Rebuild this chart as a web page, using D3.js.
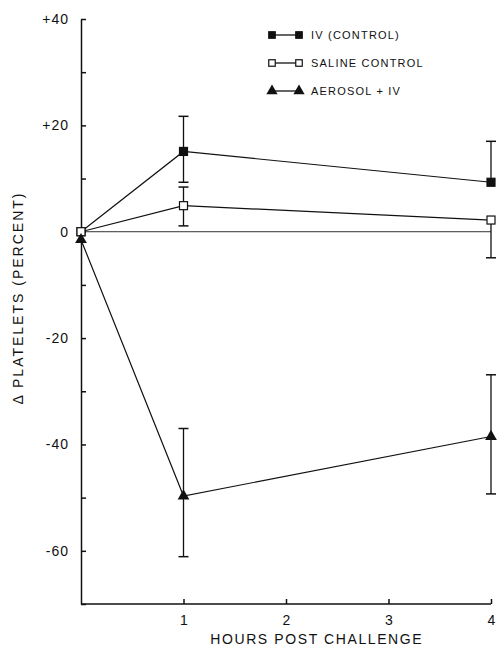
<!DOCTYPE html>
<html>
<head>
	<meta charset="utf-8">
	<title>platelets</title>
	<style type="text/css">
		body { margin: 0; background: #fff; }
		text { font-family: "Liberation Sans", "DejaVu Sans", sans-serif; fill: #111; }
	</style>
</head>
<body>
<script type="text/javascript" src="https://cdn.jsdelivr.net/npm/d3@7"></script>
<script type="text/javascript">
	// data
	var hours = [0, 1, 4];
	var seriesNames = ["IV (CONTROL)", "SALINE CONTROL", "AEROSOL + IV"];
	var ivMean = [0, 15.1, 9.3];
	var ivUp = [null, 21.7, 17.0];
	var ivDown = [null, 9.3, null];
	var salineMean = [0, 4.9, 2.2];
	var salineUp = [null, 8.4, null];
	var salineDown = [null, 1.1, -4.9];
	var aeroMean = [-1.5, -49.7, -38.5];
	var aeroUp = [null, -37.0, -26.9];
	var aeroDown = [null, -61.1, -49.3];
	var xTicks = [1, 2, 3, 4];
	var yTicks = [-70, -60, -50, -40, -30, -20, -10, 0, 10, 20, 30, 40];
	var yLabels = [-60, -40, -20, 0, 20, 40];

	var series = [
		{name: seriesNames[0], mean: ivMean, up: ivUp, down: ivDown, mark: "square", fill: "#111"},
		{name: seriesNames[1], mean: salineMean, up: salineUp, down: salineDown, mark: "square", fill: "#fff"},
		{name: seriesNames[2], mean: aeroMean, up: aeroUp, down: aeroDown, mark: "triangle", fill: "#111"}
	];

	var w = 497, h = 651;
	var x = d3.scaleLinear().domain([0, 4]).range([81, 491]);
	var y = d3.scaleLinear().domain([-70, 40]).range([604, 19]);

	var svg = d3.select("body").append("svg").attr("width", w).attr("height", h);

	// zero reference line
	svg.append("line")
		.attr("x1", x(0)).attr("x2", x(4))
		.attr("y1", y(0)).attr("y2", y(0))
		.attr("stroke", "#333").attr("stroke-width", 1);

	/*=====AXES======*/
	var yAxis = d3.axisLeft(y).tickValues(yTicks).tickSize(-5).tickSizeOuter(0)
		.tickFormat(function(d){ return yLabels.indexOf(d) >= 0 ? (d > 0 ? "+" + d : d) : ""; })
		.tickPadding(12);
	var gy = svg.append("g").attr("transform", "translate(" + x(0) + ",0)").call(yAxis);
	var xAxis = d3.axisBottom(x).tickValues(xTicks).tickSize(-5).tickSizeOuter(0)
		.tickFormat(d3.format("d")).tickPadding(11);
	var gx = svg.append("g").attr("transform", "translate(0," + y(-70) + ")").call(xAxis);

	[gy, gx].forEach(function(g){
		g.select(".domain").attr("stroke", "#111").attr("stroke-width", 1.5);
		g.selectAll(".tick line").attr("stroke", "#111").attr("stroke-width", 1.5);
		g.selectAll(".tick text").attr("font-size", 14).attr("fill", "#111")
			.style("font-family", "'Liberation Sans', sans-serif");
	});
	gx.select(".domain").attr("d", "M" + x(0) + ",0H" + x(4));
	gy.selectAll(".tick text").style("letter-spacing", "1px");

	// titles
	svg.append("text")
		.attr("x", x(2.3)).attr("y", 644)
		.attr("text-anchor", "middle").attr("font-size", 14)
		.style("letter-spacing", "1.6px")
		.text("HOURS POST CHALLENGE");
	svg.append("text")
		.attr("transform", "translate(23," + 298 + ") rotate(-90)")
		.attr("text-anchor", "middle").attr("font-size", 14)
		.style("letter-spacing", "2px")
		.text("\u0394 PLATELETS (PERCENT)");

	/*=====SERIES======*/
	var line = d3.line().x(function(d, i){ return x(hours[i]); }).y(function(d){ return y(d); });

	series.forEach(function(s){
		var g = svg.append("g");
		// error bars
		hours.forEach(function(t, i){
			[s.up[i], s.down[i]].forEach(function(e){
				if (e === null) return;
				g.append("line").attr("x1", x(t)).attr("x2", x(t))
					.attr("y1", y(s.mean[i])).attr("y2", y(e))
					.attr("stroke", "#111").attr("stroke-width", 1.3);
				g.append("line").attr("x1", x(t) - 5).attr("x2", x(t) + 5)
					.attr("y1", y(e)).attr("y2", y(e))
					.attr("stroke", "#111").attr("stroke-width", 1.5);
			});
		});
		g.append("path").attr("d", line(s.mean))
			.attr("fill", "none").attr("stroke", "#111").attr("stroke-width", 1.2);
		hours.forEach(function(t, i){
			drawMark(g, s, x(t), y(s.mean[i]), 8, 60);
		});
	});

	function drawMark(g, s, cx, cy, side, area) {
		if (s.mark === "square") {
			g.append("rect").attr("x", cx - side / 2).attr("y", cy - side / 2)
				.attr("width", side).attr("height", side)
				.attr("fill", s.fill).attr("stroke", "#111").attr("stroke-width", 1.2);
		} else {
			g.append("path").attr("d", d3.symbol().type(d3.symbolTriangle).size(area))
				.attr("transform", "translate(" + cx + "," + cy + ")")
				.attr("fill", s.fill);
		}
	}

	/*=====LEGEND======*/
	var legend = svg.append("g");
	series.forEach(function(s, i){
		var ly = 35 + i * 28;
		legend.append("line").attr("x1", 272).attr("x2", 299)
			.attr("y1", ly).attr("y2", ly)
			.attr("stroke", "#111").attr("stroke-width", 1.3);
		drawMark(legend, s, 272, ly, 6.5, 55);
		drawMark(legend, s, 299, ly, 6.5, 55);
		legend.append("text").attr("x", 311).attr("y", ly + 4)
			.attr("font-size", 11).style("letter-spacing", "1.2px")
			.text(s.name);
	});
</script>
</body>
</html>
